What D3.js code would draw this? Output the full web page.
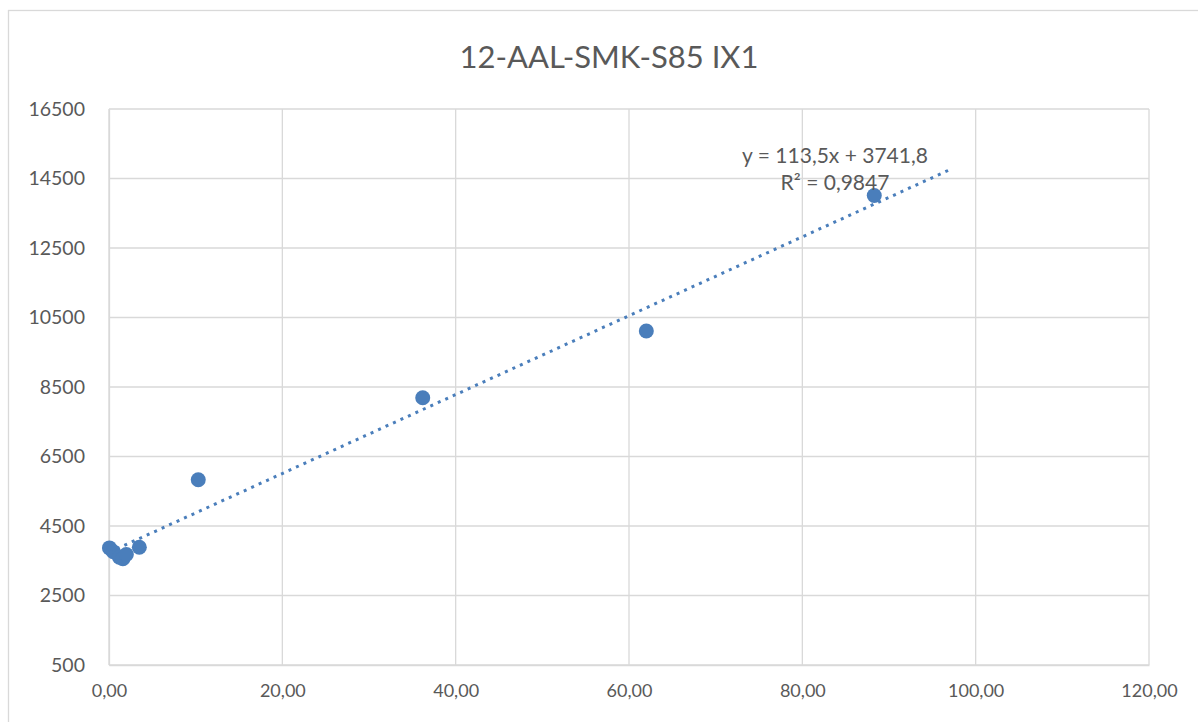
<!DOCTYPE html>
<html>
<head>
<meta charset="utf-8">
<script src="https://cdn.jsdelivr.net/npm/d3@7"></script>
<style>
  body { margin: 0; background: #fff; }
  svg text { font-family: Lato, "Open Sans", sans-serif; fill: #595959; }
</style>
</head>
<body>
<script>
// data
const xValues = [0.05, 0.5, 1.2, 1.6, 2.0, 3.5, 10.3, 36.2, 62.0, 88.3];
const yValues = [3870, 3760, 3600, 3560, 3680, 3890, 5830, 8190, 10110, 14010];
const xTicks = [0, 20, 40, 60, 80, 100, 120];
const yTicks = [500, 2500, 4500, 6500, 8500, 10500, 12500, 14500, 16500];
const trendSlope = 113.5;
const trendIntercept = 3741.8;
const trendRange = [0.05, 97];
const chartTitle = '12-AAL-SMK-S85 IX1';
const equationLines = ['y = 113,5x + 3741,8', 'R² = 0,9847'];

const width = 1198, height = 722;
const margin = ({top: 109, right: 49, bottom: 57, left: 109});

const svg = d3.select('body').append('svg')
  .attr('width', width)
  .attr('height', height);

// outer chart frame
svg.append('rect')
  .attr('x', 8.5).attr('y', 10.5)
  .attr('width', 1300).attr('height', 800)
  .attr('fill', 'none')
  .attr('stroke', '#d9d9d9')
  .attr('stroke-width', 1.3);

const xScale = d3.scaleLinear()
  .domain([0, 120])
  .range([margin.left, width - margin.right]);

const yScale = d3.scaleLinear()
  .domain([500, 16500])
  .range([height - margin.bottom, margin.top]);

const fmtX = d => d3.format('.2f')(d).replace('.', ',');

// gridlines
svg.append('g')
  .selectAll('line')
  .data(yTicks)
  .join('line')
  .attr('x1', xScale(0)).attr('x2', xScale(120))
  .attr('y1', d => yScale(d)).attr('y2', d => yScale(d))
  .attr('stroke', '#d9d9d9')
  .attr('stroke-width', 1.3);

svg.append('g')
  .selectAll('line')
  .data(xTicks)
  .join('line')
  .attr('x1', d => xScale(d)).attr('x2', d => xScale(d))
  .attr('y1', yScale(500)).attr('y2', yScale(16500))
  .attr('stroke', '#d9d9d9')
  .attr('stroke-width', 1.3);

// Y axis
const yAxis = d3.axisLeft(yScale).tickValues(yTicks).tickFormat(d3.format('d')).tickSize(0).tickPadding(24);
svg.append('g')
  .attr('transform', `translate(${margin.left},0)`)
  .call(yAxis)
  .call(g => g.select('.domain').attr('stroke', '#d9d9d9').attr('stroke-width', 1.3))
  .selectAll('text')
  .attr('font-size', 19.5)
  .attr('fill', '#595959');

// X axis
const xAxis = d3.axisBottom(xScale).tickValues(xTicks).tickFormat(fmtX).tickSize(0).tickPadding(19);
svg.append('g')
  .attr('transform', `translate(0,${height - margin.bottom})`)
  .call(xAxis)
  .call(g => g.select('.domain').attr('stroke', '#d9d9d9').attr('stroke-width', 1.3))
  .selectAll('text')
  .attr('font-size', 18)
  .attr('fill', '#595959');

svg.selectAll('.tick text').style('font-family', 'Lato, "Open Sans", sans-serif');

// points
const points = xValues.map((x, i) => ({x: x, y: yValues[i]}));
svg.append('g')
  .selectAll('circle')
  .data(points)
  .join('circle')
  .attr('cx', d => xScale(d.x))
  .attr('cy', d => yScale(d.y))
  .attr('r', 7.5)
  .attr('fill', '#4a7ebb');

// linear trendline (dotted)
svg.append('line')
  .attr('x1', xScale(trendRange[0]))
  .attr('y1', yScale(trendSlope * trendRange[0] + trendIntercept))
  .attr('x2', xScale(trendRange[1]))
  .attr('y2', yScale(trendSlope * trendRange[1] + trendIntercept))
  .attr('stroke', '#4a7ebb')
  .attr('stroke-width', 3)
  .attr('stroke-dasharray', '3 5.2');

// trendline label
svg.append('text')
  .attr('x', 835).attr('y', 163)
  .attr('text-anchor', 'middle')
  .attr('font-size', 21)
  .text(equationLines[0]);
svg.append('text')
  .attr('x', 835).attr('y', 190)
  .attr('text-anchor', 'middle')
  .attr('font-size', 21)
  .text(equationLines[1]);

// title
svg.append('text')
  .attr('x', 609).attr('y', 68)
  .attr('text-anchor', 'middle')
  .attr('font-size', 31)
  .text(chartTitle);
</script>
</body>
</html>
